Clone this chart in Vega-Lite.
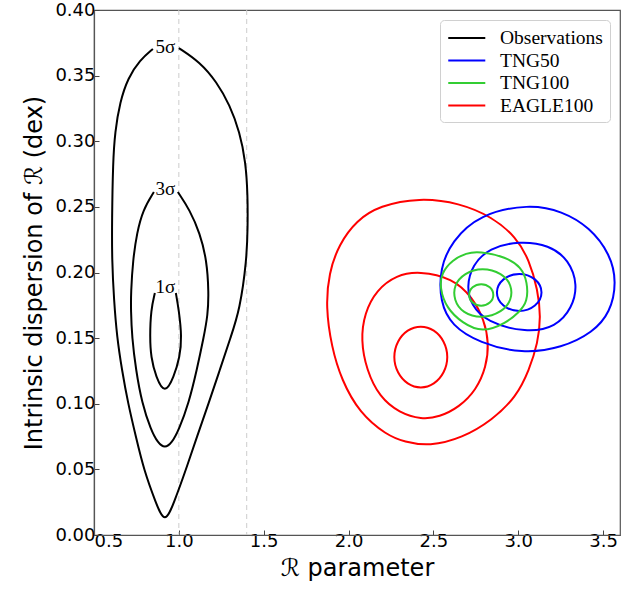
{
  "$schema": "https://vega.github.io/schema/vega-lite/v6.json",
  "width": 526,
  "height": 525,
  "autosize": "none",
  "padding": {"left": 94, "top": 10, "right": 18, "bottom": 57},
  "background": "white",
  "config": {
    "view": {"stroke": "#555", "strokeWidth": 1.2},
    "axis": {
      "grid": false,
      "domainColor": "#555",
      "domainWidth": 1.2,
      "tickColor": "#444",
      "tickSize": -5,
      "tickWidth": 1,
      "labelFont": "DejaVu Sans",
      "labelFontSize": 18,
      "labelColor": "black",
      "titleFont": "DejaVu Sans",
      "titleFontSize": 24,
      "titleFontWeight": "normal",
      "titleColor": "black"
    }
  },
  "datasets": {
    "vlines": [{"x": 1.0}, {"x": 1.4}],
    "obs": [
      {"model": "Observations", "c": "o5", "i": 0, "x": 1.0, "y": 0.371},
      {"model": "Observations", "c": "o5", "i": 1, "x": 1.1235, "y": 0.3604},
      {"model": "Observations", "c": "o5", "i": 2, "x": 1.2235, "y": 0.3451},
      {"model": "Observations", "c": "o5", "i": 3, "x": 1.3, "y": 0.3276},
      {"model": "Observations", "c": "o5", "i": 4, "x": 1.3588, "y": 0.307},
      {"model": "Observations", "c": "o5", "i": 5, "x": 1.3941, "y": 0.2842},
      {"model": "Observations", "c": "o5", "i": 6, "x": 1.4059, "y": 0.259},
      {"model": "Observations", "c": "o5", "i": 7, "x": 1.4059, "y": 0.2347},
      {"model": "Observations", "c": "o5", "i": 8, "x": 1.4, "y": 0.2095},
      {"model": "Observations", "c": "o5", "i": 9, "x": 1.3588, "y": 0.1714},
      {"model": "Observations", "c": "o5", "i": 10, "x": 1.3059, "y": 0.1509},
      {"model": "Observations", "c": "o5", "i": 11, "x": 1.2412, "y": 0.1257},
      {"model": "Observations", "c": "o5", "i": 12, "x": 1.1765, "y": 0.1006},
      {"model": "Observations", "c": "o5", "i": 13, "x": 1.1059, "y": 0.0747},
      {"model": "Observations", "c": "o5", "i": 14, "x": 1.0412, "y": 0.0495},
      {"model": "Observations", "c": "o5", "i": 15, "x": 0.9706, "y": 0.0244},
      {"model": "Observations", "c": "o5", "i": 16, "x": 0.9176, "y": 0.008},
      {"model": "Observations", "c": "o5", "i": 17, "x": 0.8647, "y": 0.0244},
      {"model": "Observations", "c": "o5", "i": 18, "x": 0.7941, "y": 0.0495},
      {"model": "Observations", "c": "o5", "i": 19, "x": 0.7471, "y": 0.0747},
      {"model": "Observations", "c": "o5", "i": 20, "x": 0.7, "y": 0.1006},
      {"model": "Observations", "c": "o5", "i": 21, "x": 0.6647, "y": 0.1257},
      {"model": "Observations", "c": "o5", "i": 22, "x": 0.6353, "y": 0.1509},
      {"model": "Observations", "c": "o5", "i": 23, "x": 0.6176, "y": 0.179},
      {"model": "Observations", "c": "o5", "i": 24, "x": 0.6059, "y": 0.2095},
      {"model": "Observations", "c": "o5", "i": 25, "x": 0.6059, "y": 0.24},
      {"model": "Observations", "c": "o5", "i": 26, "x": 0.6118, "y": 0.2842},
      {"model": "Observations", "c": "o5", "i": 27, "x": 0.6235, "y": 0.307},
      {"model": "Observations", "c": "o5", "i": 28, "x": 0.6529, "y": 0.3299},
      {"model": "Observations", "c": "o5", "i": 29, "x": 0.7, "y": 0.3482},
      {"model": "Observations", "c": "o5", "i": 30, "x": 0.7706, "y": 0.3619},
      {"model": "Observations", "c": "o5", "i": 31, "x": 0.8471, "y": 0.3703},
      {"model": "Observations", "c": "o3", "i": 0, "x": 0.9941, "y": 0.2613},
      {"model": "Observations", "c": "o3", "i": 1, "x": 1.0647, "y": 0.2476},
      {"model": "Observations", "c": "o3", "i": 2, "x": 1.1235, "y": 0.2301},
      {"model": "Observations", "c": "o3", "i": 3, "x": 1.1647, "y": 0.2095},
      {"model": "Observations", "c": "o3", "i": 4, "x": 1.1765, "y": 0.1844},
      {"model": "Observations", "c": "o3", "i": 5, "x": 1.1706, "y": 0.1676},
      {"model": "Observations", "c": "o3", "i": 6, "x": 1.1471, "y": 0.1509},
      {"model": "Observations", "c": "o3", "i": 7, "x": 1.1059, "y": 0.1257},
      {"model": "Observations", "c": "o3", "i": 8, "x": 1.0588, "y": 0.1006},
      {"model": "Observations", "c": "o3", "i": 9, "x": 1.0, "y": 0.08},
      {"model": "Observations", "c": "o3", "i": 10, "x": 0.9588, "y": 0.0701},
      {"model": "Observations", "c": "o3", "i": 11, "x": 0.9176, "y": 0.066},
      {"model": "Observations", "c": "o3", "i": 12, "x": 0.8765, "y": 0.0701},
      {"model": "Observations", "c": "o3", "i": 13, "x": 0.8353, "y": 0.08},
      {"model": "Observations", "c": "o3", "i": 14, "x": 0.7824, "y": 0.1006},
      {"model": "Observations", "c": "o3", "i": 15, "x": 0.7471, "y": 0.1257},
      {"model": "Observations", "c": "o3", "i": 16, "x": 0.7235, "y": 0.1509},
      {"model": "Observations", "c": "o3", "i": 17, "x": 0.7176, "y": 0.1714},
      {"model": "Observations", "c": "o3", "i": 18, "x": 0.7176, "y": 0.1844},
      {"model": "Observations", "c": "o3", "i": 19, "x": 0.7294, "y": 0.2095},
      {"model": "Observations", "c": "o3", "i": 20, "x": 0.7529, "y": 0.2301},
      {"model": "Observations", "c": "o3", "i": 21, "x": 0.7882, "y": 0.2476},
      {"model": "Observations", "c": "o3", "i": 22, "x": 0.8529, "y": 0.2613},
      {"model": "Observations", "c": "o1", "i": 0, "x": 0.9824, "y": 0.1844},
      {"model": "Observations", "c": "o1", "i": 1, "x": 1.0, "y": 0.1714},
      {"model": "Observations", "c": "o1", "i": 2, "x": 1.0176, "y": 0.1509},
      {"model": "Observations", "c": "o1", "i": 3, "x": 1.0059, "y": 0.1356},
      {"model": "Observations", "c": "o1", "i": 4, "x": 0.9706, "y": 0.1204},
      {"model": "Observations", "c": "o1", "i": 5, "x": 0.9176, "y": 0.107},
      {"model": "Observations", "c": "o1", "i": 6, "x": 0.8647, "y": 0.1204},
      {"model": "Observations", "c": "o1", "i": 7, "x": 0.8353, "y": 0.1356},
      {"model": "Observations", "c": "o1", "i": 8, "x": 0.8294, "y": 0.1509},
      {"model": "Observations", "c": "o1", "i": 9, "x": 0.8353, "y": 0.1714},
      {"model": "Observations", "c": "o1", "i": 10, "x": 0.8588, "y": 0.1844}
    ],
    "sims": [
      {"model": "EAGLE100", "c": "e3", "i": 0, "x": 2.4176, "y": 0.257},
      {"model": "EAGLE100", "c": "e3", "i": 1, "x": 2.6529, "y": 0.253},
      {"model": "EAGLE100", "c": "e3", "i": 2, "x": 2.8471, "y": 0.2423},
      {"model": "EAGLE100", "c": "e3", "i": 3, "x": 2.9882, "y": 0.227},
      {"model": "EAGLE100", "c": "e3", "i": 4, "x": 3.0647, "y": 0.2095},
      {"model": "EAGLE100", "c": "e3", "i": 5, "x": 3.1158, "y": 0.1867},
      {"model": "EAGLE100", "c": "e3", "i": 6, "x": 3.1334, "y": 0.1661},
      {"model": "EAGLE100", "c": "e3", "i": 7, "x": 3.1158, "y": 0.1463},
      {"model": "EAGLE100", "c": "e3", "i": 8, "x": 3.0647, "y": 0.1257},
      {"model": "EAGLE100", "c": "e3", "i": 9, "x": 2.9882, "y": 0.1051},
      {"model": "EAGLE100", "c": "e3", "i": 10, "x": 2.8471, "y": 0.0876},
      {"model": "EAGLE100", "c": "e3", "i": 11, "x": 2.6706, "y": 0.0739},
      {"model": "EAGLE100", "c": "e3", "i": 12, "x": 2.4765, "y": 0.0676},
      {"model": "EAGLE100", "c": "e3", "i": 13, "x": 2.3294, "y": 0.0709},
      {"model": "EAGLE100", "c": "e3", "i": 14, "x": 2.2235, "y": 0.0762},
      {"model": "EAGLE100", "c": "e3", "i": 15, "x": 2.0647, "y": 0.093},
      {"model": "EAGLE100", "c": "e3", "i": 16, "x": 1.9588, "y": 0.1181},
      {"model": "EAGLE100", "c": "e3", "i": 17, "x": 1.9, "y": 0.1432},
      {"model": "EAGLE100", "c": "e3", "i": 18, "x": 1.866, "y": 0.1737},
      {"model": "EAGLE100", "c": "e3", "i": 19, "x": 1.8842, "y": 0.1996},
      {"model": "EAGLE100", "c": "e3", "i": 20, "x": 1.9431, "y": 0.2214},
      {"model": "EAGLE100", "c": "e3", "i": 21, "x": 2.0471, "y": 0.2397},
      {"model": "EAGLE100", "c": "e3", "i": 22, "x": 2.1824, "y": 0.2509},
      {"model": "EAGLE100", "c": "e2", "i": 0, "x": 2.4176, "y": 0.201},
      {"model": "EAGLE100", "c": "e2", "i": 1, "x": 2.6118, "y": 0.1958},
      {"model": "EAGLE100", "c": "e2", "i": 2, "x": 2.7294, "y": 0.1813},
      {"model": "EAGLE100", "c": "e2", "i": 3, "x": 2.8, "y": 0.1638},
      {"model": "EAGLE100", "c": "e2", "i": 4, "x": 2.8275, "y": 0.1463},
      {"model": "EAGLE100", "c": "e2", "i": 5, "x": 2.8118, "y": 0.128},
      {"model": "EAGLE100", "c": "e2", "i": 6, "x": 2.7529, "y": 0.1105},
      {"model": "EAGLE100", "c": "e2", "i": 7, "x": 2.6529, "y": 0.0975},
      {"model": "EAGLE100", "c": "e2", "i": 8, "x": 2.5353, "y": 0.0899},
      {"model": "EAGLE100", "c": "e2", "i": 9, "x": 2.4294, "y": 0.0881},
      {"model": "EAGLE100", "c": "e2", "i": 10, "x": 2.3, "y": 0.093},
      {"model": "EAGLE100", "c": "e2", "i": 11, "x": 2.1824, "y": 0.1051},
      {"model": "EAGLE100", "c": "e2", "i": 12, "x": 2.1059, "y": 0.1257},
      {"model": "EAGLE100", "c": "e2", "i": 13, "x": 2.0725, "y": 0.1486},
      {"model": "EAGLE100", "c": "e2", "i": 14, "x": 2.0941, "y": 0.1691},
      {"model": "EAGLE100", "c": "e2", "i": 15, "x": 2.1647, "y": 0.1867},
      {"model": "EAGLE100", "c": "e2", "i": 16, "x": 2.2824, "y": 0.1981},
      {"model": "EAGLE100", "c": "e1", "i": 0, "x": 2.59, "y": 0.1356},
      {"model": "EAGLE100", "c": "e1", "i": 1, "x": 2.566, "y": 0.1478},
      {"model": "EAGLE100", "c": "e1", "i": 2, "x": 2.506, "y": 0.1566},
      {"model": "EAGLE100", "c": "e1", "i": 3, "x": 2.426, "y": 0.1598},
      {"model": "EAGLE100", "c": "e1", "i": 4, "x": 2.346, "y": 0.1566},
      {"model": "EAGLE100", "c": "e1", "i": 5, "x": 2.286, "y": 0.1478},
      {"model": "EAGLE100", "c": "e1", "i": 6, "x": 2.262, "y": 0.1356},
      {"model": "EAGLE100", "c": "e1", "i": 7, "x": 2.286, "y": 0.1234},
      {"model": "EAGLE100", "c": "e1", "i": 8, "x": 2.346, "y": 0.1146},
      {"model": "EAGLE100", "c": "e1", "i": 9, "x": 2.426, "y": 0.1114},
      {"model": "EAGLE100", "c": "e1", "i": 10, "x": 2.506, "y": 0.1146},
      {"model": "EAGLE100", "c": "e1", "i": 11, "x": 2.566, "y": 0.1234},
      {"model": "TNG50", "c": "b3", "i": 0, "x": 3.0647, "y": 0.2522},
      {"model": "TNG50", "c": "b3", "i": 1, "x": 3.2588, "y": 0.2468},
      {"model": "TNG50", "c": "b3", "i": 2, "x": 3.4216, "y": 0.2345},
      {"model": "TNG50", "c": "b3", "i": 3, "x": 3.5433, "y": 0.2138},
      {"model": "TNG50", "c": "b3", "i": 4, "x": 3.5807, "y": 0.1928},
      {"model": "TNG50", "c": "b3", "i": 5, "x": 3.5433, "y": 0.1695},
      {"model": "TNG50", "c": "b3", "i": 6, "x": 3.4393, "y": 0.1542},
      {"model": "TNG50", "c": "b3", "i": 7, "x": 3.2588, "y": 0.1426},
      {"model": "TNG50", "c": "b3", "i": 8, "x": 3.0235, "y": 0.1380},
      {"model": "TNG50", "c": "b3", "i": 9, "x": 2.7706, "y": 0.1464},
      {"model": "TNG50", "c": "b3", "i": 10, "x": 2.6078, "y": 0.1595},
      {"model": "TNG50", "c": "b3", "i": 11, "x": 2.5391, "y": 0.1775},
      {"model": "TNG50", "c": "b3", "i": 12, "x": 2.5391, "y": 0.2034},
      {"model": "TNG50", "c": "b3", "i": 13, "x": 2.6078, "y": 0.2237},
      {"model": "TNG50", "c": "b3", "i": 14, "x": 2.7706, "y": 0.2444},
      {"model": "TNG50", "c": "b2", "i": 0, "x": 3.0059, "y": 0.224},
      {"model": "TNG50", "c": "b2", "i": 1, "x": 3.1824, "y": 0.221},
      {"model": "TNG50", "c": "b2", "i": 2, "x": 3.3, "y": 0.2095},
      {"model": "TNG50", "c": "b2", "i": 3, "x": 3.3511, "y": 0.1905},
      {"model": "TNG50", "c": "b2", "i": 4, "x": 3.3176, "y": 0.173},
      {"model": "TNG50", "c": "b2", "i": 5, "x": 3.2235, "y": 0.1585},
      {"model": "TNG50", "c": "b2", "i": 6, "x": 3.0471, "y": 0.154},
      {"model": "TNG50", "c": "b2", "i": 7, "x": 2.8118, "y": 0.1623},
      {"model": "TNG50", "c": "b2", "i": 8, "x": 2.7235, "y": 0.1752},
      {"model": "TNG50", "c": "b2", "i": 9, "x": 2.696, "y": 0.189},
      {"model": "TNG50", "c": "b2", "i": 10, "x": 2.7294, "y": 0.2057},
      {"model": "TNG50", "c": "b2", "i": 11, "x": 2.8294, "y": 0.2187},
      {"model": "TNG50", "c": "b1", "i": 0, "x": 3.152, "y": 0.1848},
      {"model": "TNG50", "c": "b1", "i": 1, "x": 3.108, "y": 0.1958},
      {"model": "TNG50", "c": "b1", "i": 2, "x": 3.006, "y": 0.2005},
      {"model": "TNG50", "c": "b1", "i": 3, "x": 2.904, "y": 0.1958},
      {"model": "TNG50", "c": "b1", "i": 4, "x": 2.86, "y": 0.1848},
      {"model": "TNG50", "c": "b1", "i": 5, "x": 2.904, "y": 0.1738},
      {"model": "TNG50", "c": "b1", "i": 6, "x": 3.006, "y": 0.1691},
      {"model": "TNG50", "c": "b1", "i": 7, "x": 3.108, "y": 0.1738},
      {"model": "TNG100", "c": "g3", "i": 0, "x": 2.7706, "y": 0.2162},
      {"model": "TNG100", "c": "g3", "i": 1, "x": 2.9294, "y": 0.2118},
      {"model": "TNG100", "c": "g3", "i": 2, "x": 3.0176, "y": 0.2042},
      {"model": "TNG100", "c": "g3", "i": 3, "x": 3.0549, "y": 0.1928},
      {"model": "TNG100", "c": "g3", "i": 4, "x": 3.0549, "y": 0.1775},
      {"model": "TNG100", "c": "g3", "i": 5, "x": 3.0059, "y": 0.1699},
      {"model": "TNG100", "c": "g3", "i": 6, "x": 2.9294, "y": 0.1615},
      {"model": "TNG100", "c": "g3", "i": 7, "x": 2.7882, "y": 0.1541},
      {"model": "TNG100", "c": "g3", "i": 8, "x": 2.6706, "y": 0.1615},
      {"model": "TNG100", "c": "g3", "i": 9, "x": 2.5765, "y": 0.173},
      {"model": "TNG100", "c": "g3", "i": 10, "x": 2.5382, "y": 0.1882},
      {"model": "TNG100", "c": "g3", "i": 11, "x": 2.5471, "y": 0.1996},
      {"model": "TNG100", "c": "g3", "i": 12, "x": 2.6118, "y": 0.2095},
      {"model": "TNG100", "c": "g3", "i": 13, "x": 2.6941, "y": 0.2149},
      {"model": "TNG100", "c": "g2", "i": 0, "x": 2.788, "y": 0.204},
      {"model": "TNG100", "c": "g2", "i": 1, "x": 2.906, "y": 0.1996},
      {"model": "TNG100", "c": "g2", "i": 2, "x": 2.962, "y": 0.1905},
      {"model": "TNG100", "c": "g2", "i": 3, "x": 2.962, "y": 0.179},
      {"model": "TNG100", "c": "g2", "i": 4, "x": 2.906, "y": 0.1699},
      {"model": "TNG100", "c": "g2", "i": 5, "x": 2.788, "y": 0.1647},
      {"model": "TNG100", "c": "g2", "i": 6, "x": 2.671, "y": 0.1691},
      {"model": "TNG100", "c": "g2", "i": 7, "x": 2.621, "y": 0.179},
      {"model": "TNG100", "c": "g2", "i": 8, "x": 2.621, "y": 0.1905},
      {"model": "TNG100", "c": "g2", "i": 9, "x": 2.682, "y": 0.1996},
      {"model": "TNG100", "c": "g1", "i": 0, "x": 2.861, "y": 0.1829},
      {"model": "TNG100", "c": "g1", "i": 1, "x": 2.838, "y": 0.1893},
      {"model": "TNG100", "c": "g1", "i": 2, "x": 2.782, "y": 0.192},
      {"model": "TNG100", "c": "g1", "i": 3, "x": 2.726, "y": 0.1893},
      {"model": "TNG100", "c": "g1", "i": 4, "x": 2.703, "y": 0.1829},
      {"model": "TNG100", "c": "g1", "i": 5, "x": 2.726, "y": 0.1765},
      {"model": "TNG100", "c": "g1", "i": 6, "x": 2.782, "y": 0.1738},
      {"model": "TNG100", "c": "g1", "i": 7, "x": 2.838, "y": 0.1765}
    ],
    "labels": [
      {"x": 0.92, "y": 0.3715, "t": "5σ"},
      {"x": 0.92, "y": 0.2635, "t": "3σ"},
      {"x": 0.92, "y": 0.189, "t": "1σ"}
    ]
  },
  "layer": [
    {
      "data": {"name": "vlines"},
      "mark": {"type": "rule", "color": "#cccccc", "strokeDash": [5, 4], "strokeWidth": 1},
      "encoding": {
        "x": {"field": "x", "type": "quantitative"}
      }
    },
    {
      "data": {"name": "sims"},
      "mark": {"type": "line", "interpolate": "basis-closed", "strokeWidth": 2},
      "encoding": {
        "x": {"field": "x", "type": "quantitative", "scale": {"domain": [0.5, 3.6], "nice": false, "zero": false},
          "axis": {"values": [0.5, 1.0, 1.5, 2.0, 2.5, 3.0, 3.5], "format": ".1f", "title": "ℛ parameter", "labelPadding": 2, "titlePadding": 6}},
        "y": {"field": "y", "type": "quantitative", "scale": {"domain": [0, 0.4], "nice": false, "zero": false},
          "axis": {"values": [0, 0.05, 0.1, 0.15, 0.2, 0.25, 0.3, 0.35, 0.4], "format": ".2f", "title": "Intrinsic dispersion of ℛ (dex)", "labelPadding": 4, "titlePadding": 8}},
        "color": {"field": "model", "type": "nominal",
          "scale": {"domain": ["Observations", "TNG50", "TNG100", "EAGLE100"], "range": ["#000000", "#0000ff", "#32cd32", "#ff0000"]},
          "legend": {"title": null, "orient": "top-right", "offset": 10, "padding": 7, "strokeColor": "#d0d0d0", "fillColor": "white", "cornerRadius": 4,
            "symbolType": "M-1,0H2.8", "symbolSize": 380, "symbolStrokeWidth": 2, "labelFont": "Liberation Serif", "labelFontSize": 19.5, "labelColor": "black", "labelOffset": 31, "rowPadding": 1.5}},
        "detail": {"field": "c"},
        "order": {"field": "i", "type": "quantitative"}
      }
    },
    {
      "data": {"name": "obs"},
      "mark": {"type": "line", "interpolate": "basis", "strokeWidth": 2},
      "encoding": {
        "x": {"field": "x", "type": "quantitative"},
        "y": {"field": "y", "type": "quantitative"},
        "color": {"field": "model", "type": "nominal"},
        "detail": {"field": "c"},
        "order": {"field": "i", "type": "quantitative"}
      }
    },
    {
      "data": {"name": "labels"},
      "mark": {"type": "text", "font": "Liberation Serif", "fontSize": 19, "color": "black", "baseline": "middle", "align": "center"},
      "encoding": {
        "x": {"field": "x", "type": "quantitative"},
        "y": {"field": "y", "type": "quantitative"},
        "text": {"field": "t"}
      }
    }
  ]
}
